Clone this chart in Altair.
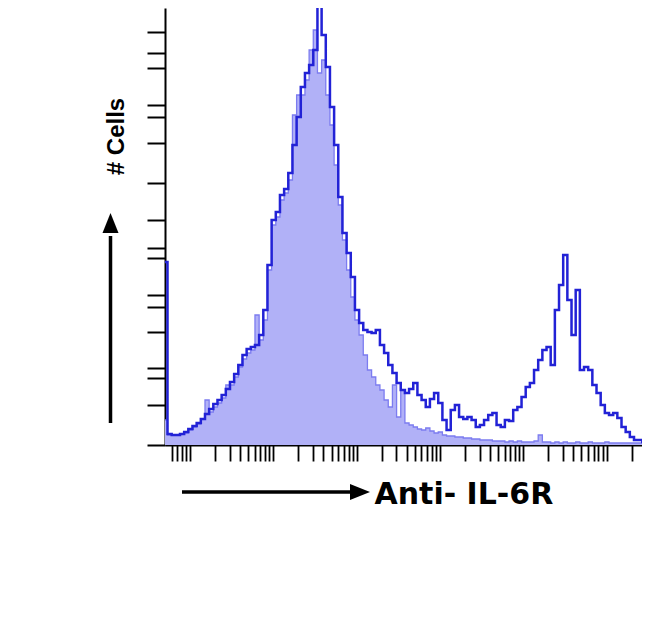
import altair as alt
import pandas as pd

# Histogram channels: log10 start and width of each bin (decades)
LOG_START = -0.32
BIN_W = 0.05

# Stained sample (dark blue outline), counts per bin
dark_counts = [
    183, 11, 10, 10, 11, 13, 16, 19, 22, 26,
    31, 36, 41, 45, 50, 56, 63, 71, 80, 90,
    96, 98, 100, 110, 135, 180, 225, 233, 250, 256,
    272, 300, 328, 358, 372, 380, 395, 440, 410, 378,
    338, 300, 248, 212, 192, 168, 135, 122, 115, 113,
    112, 115, 100, 92, 80, 72, 62, 55, 52, 56,
    62, 50, 45, 38, 46, 52, 42, 25, 15, 35,
    40, 28, 26, 28, 25, 18, 20, 25, 30, 32,
    20, 18, 25, 24, 35, 38, 48, 58, 62, 75,
    85, 95, 98, 80, 135, 160, 190, 145, 110, 155,
    75, 78, 75, 60, 52, 40, 32, 30, 32, 27,
    18, 13, 8, 5, 5, 3, 3,
]

# Control (filled lavender), counts per bin
control_counts = [
    25, 10, 10, 10, 11, 12, 15, 18, 21, 26,
    45, 33, 38, 42, 47, 60, 60, 68, 78, 86,
    92, 95, 130, 105, 125, 175, 220, 228, 245, 252,
    265, 330, 350, 350, 365, 395, 415, 372, 385, 350,
    320, 280, 240, 205, 175, 148, 125, 110, 90, 75,
    68, 60, 55, 45, 38, 60, 28, 55, 22, 20,
    18, 16, 15, 17, 14, 12, 13, 10, 9, 9,
    8, 8, 7, 7, 6, 6, 5, 5, 5, 4,
    4, 4, 3, 4, 3, 4, 3, 3, 3, 4,
    10, 3, 3, 2, 3, 2, 3, 2, 2, 3,
    2, 2, 3, 2, 2, 2, 3, 2, 2, 2,
    2, 2, 2, 2, 2, 2, 2,
]

# Axis tick values
x_decades = [0.1, 1, 10, 100, 1000, 10000, 100000]
x_minor = [1, 2, 3, 4, 5, 6, 7, 8, 9]
y_ticks = [0, 40, 67, 77, 113, 138, 150, 187, 197, 225, 262, 302, 328, 340, 377, 392, 413]

X_DOMAIN = [10 ** -0.3, 10 ** 5.426]
Y_DOMAIN = [0, 437]

x_ticks = [d * m for d in x_decades for m in x_minor if X_DOMAIN[0] <= d * m <= X_DOMAIN[1]]


def hist_frame(counts):
    rows = []
    for i, c in enumerate(counts):
        rows.append({"x": 10 ** (LOG_START + BIN_W * i), "count": c})
    rows.append({"x": 10 ** (LOG_START + BIN_W * len(counts)), "count": counts[-1]})
    return pd.DataFrame(rows)


dark_df = hist_frame(dark_counts)
ctrl_df = hist_frame(control_counts)

x_scale = alt.Scale(type="log", domain=X_DOMAIN, nice=False)
y_scale = alt.Scale(domain=Y_DOMAIN, nice=False, zero=True)

x_axis = alt.Axis(
    values=x_ticks, tickCount=500, labels=False, labelOverlap=False, grid=False,
    tickSize=16, tickWidth=1.8, tickColor="black",
    domainColor="black", domainWidth=2,
    title="Anti- IL-6R", titleFont="DejaVu Sans", titleFontWeight="bold",
    titleFontSize=30, titleColor="black", titleX=209, titleY=58,
    titleAlign="left", titleBaseline="alphabetic", titleAngle=0,
)
y_axis = alt.Axis(
    values=y_ticks, tickCount=500, labels=False, labelOverlap=False, grid=False,
    tickSize=18, tickWidth=2, tickColor="black",
    domainColor="black", domainWidth=2,
    title="# Cells", titleFont="Liberation Sans", titleFontWeight="bold",
    titleFontSize=24, titleColor="black", titleX=-42, titleY=128,
    titleAlign="center", titleBaseline="alphabetic", titleAngle=270,
)

ctrl_area = alt.Chart(ctrl_df).mark_area(
    interpolate="step-after", color="#b1b1f7", opacity=1, clip=True
).encode(
    x=alt.X("x:Q", scale=x_scale, axis=x_axis),
    y=alt.Y("count:Q", scale=y_scale, axis=y_axis),
)

ctrl_line = alt.Chart(ctrl_df).mark_line(
    interpolate="step-after", color="#7c7cf0", strokeWidth=1.3, clip=True
).encode(
    x=alt.X("x:Q", scale=x_scale),
    y=alt.Y("count:Q", scale=y_scale),
)

dark_line = alt.Chart(dark_df).mark_line(
    interpolate="step-after", color="#2222d6", strokeWidth=2.5, clip=True
).encode(
    x=alt.X("x:Q", scale=x_scale),
    y=alt.Y("count:Q", scale=y_scale),
)

one = pd.DataFrame({"k": [0]})

y_arrow_line = alt.Chart(one).mark_rule(color="black", strokeWidth=3.5).encode(
    x=alt.value(-54.5), y=alt.value(228), y2=alt.value(415)
)
y_arrow_head = alt.Chart(one).mark_point(
    shape="M -0.8 1 L 0.8 1 L 0 -1 Z", filled=True, size=400,
    color="black", opacity=1, strokeWidth=0
).encode(x=alt.value(-54.5), y=alt.value(215))

x_arrow_line = alt.Chart(one).mark_rule(color="black", strokeWidth=3.5).encode(
    x=alt.value(17), x2=alt.value(188), y=alt.value(484)
)
x_arrow_head = alt.Chart(one).mark_point(
    shape="M -1 -0.8 L 1 0 L -1 0.8 Z", filled=True, size=400,
    color="black", opacity=1, strokeWidth=0
).encode(x=alt.value(195), y=alt.value(484))

chart = alt.layer(
    ctrl_area, ctrl_line, dark_line,
    y_arrow_line, y_arrow_head, x_arrow_line, x_arrow_head,
).properties(
    width=477, height=437,
    autosize=alt.AutoSizeParams(type="none"),
    padding={"left": 157, "top": 0, "right": 0, "bottom": 160},
).configure(background="white").configure_view(stroke=None)

chart.save("out.html", embed_options={"renderer": "svg", "actions": False})
